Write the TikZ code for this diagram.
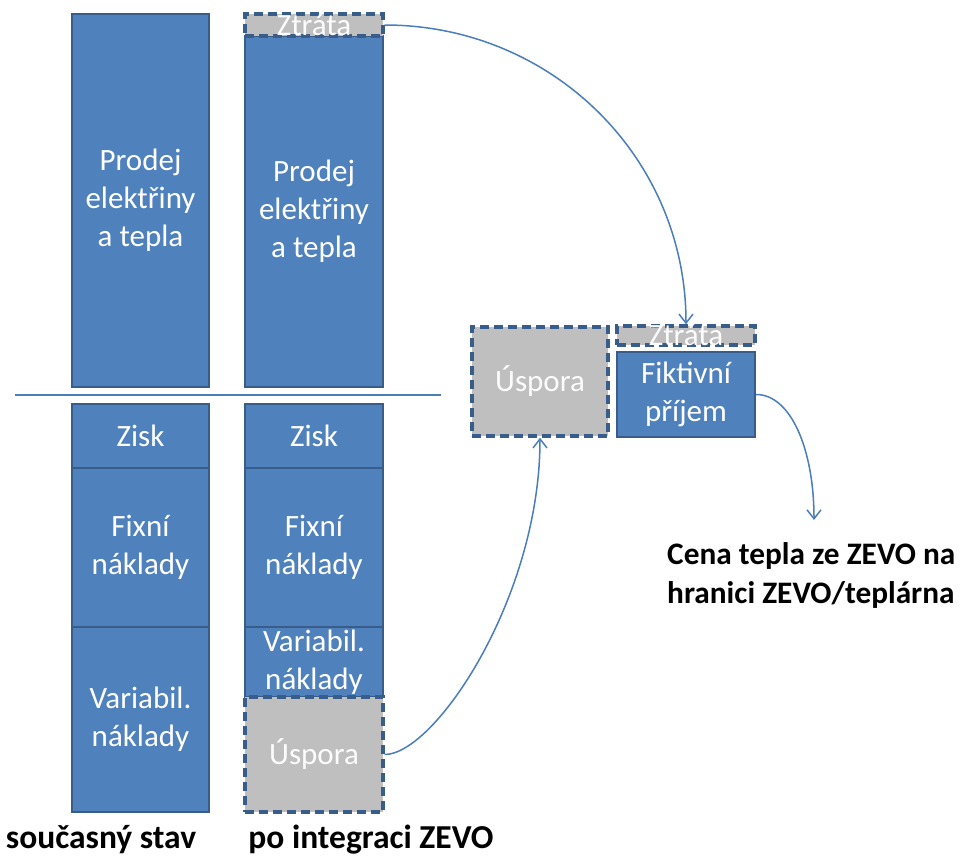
\documentclass[tikz,border=0pt]{standalone}
\usepackage{fontspec}
\setmainfont{Carlito}
\usetikzlibrary{arrows.meta}
\definecolor{bfill}{HTML}{4F81BD}
\definecolor{bline}{HTML}{385D8A}
\definecolor{gfill}{HTML}{BFBFBF}
\definecolor{flowc}{HTML}{4A7EBB}
\tikzset{
  costbox/.style = {draw=bline, line width=2.2pt, fill=bfill, rectangle,
                    text=white, inner sep=0pt, align=center,
                    font=\fontsize{31}{38}\selectfont},
  lossbox/.style = {costbox, fill=gfill, line width=3.4pt,
                    dash pattern=on 9pt off 5pt, text=white!95!gfill},
  flow/.style    = {-{Straight Barb[length=9pt,width=14pt]}, draw=flowc, line width=1.5pt},
  caption/.style = {font=\bfseries\fontsize{33.5}{39}\selectfont, inner sep=0pt},
}

\begin{document}
\begin{tikzpicture}[x=1pt,y=-1pt]
\useasboundingbox (0,0) rectangle (976,859);
% column 1: current state
\node[costbox, minimum width=137pt, minimum height=373pt] (prodL) at (140.5,200.5) {Prodej\\elektřiny\\a tepla};
\node[costbox, minimum width=137pt, minimum height=64pt] (ziskL) at (140.5,436) {Zisk};
\node[costbox, minimum width=137pt, minimum height=159pt] (fixL) at (140.5,547.5) {Fixní\\náklady};
\node[costbox, minimum width=137pt, minimum height=185pt] (varL) at (140.5,719.5) {Variabil.\\náklady};
% column 2: after ZEVO integration
\node[costbox, minimum width=138pt, minimum height=351pt] (prodR) at (314,211.5) {Prodej\\elektřiny\\a tepla};
\node[lossbox, minimum width=138pt, minimum height=22pt, text height=22pt, text depth=0pt] (ztrA) at (314,25) {Ztráta};
\node[costbox, minimum width=138pt, minimum height=64pt] (ziskR) at (314,436) {Zisk};
\node[costbox, minimum width=138pt, minimum height=159pt] (fixR) at (314,547.5) {Fixní\\náklady};
\node[costbox, minimum width=138pt, minimum height=70pt] (varR) at (314,662) {Variabil.\\náklady};
\node[lossbox, minimum width=138pt, minimum height=115pt] (uspA) at (314,754.5) {Úspora};
% revenue / income split on the right
\node[lossbox, minimum width=136pt, minimum height=109pt] (uspB) at (540,381.5) {Úspora};
\node[lossbox, minimum width=138pt, minimum height=19pt, text height=19pt, text depth=0pt] (ztrB) at (686,335.5) {Ztráta};
\node[costbox, minimum width=138pt, minimum height=85pt] (fikt) at (686,394.5) {Fiktivní\\příjem};
% revenue above, costs below
\draw[line width=1.5pt, draw=flowc] (15,395) -- (441,395);
\node[caption] (capL) at (101,840) {současný stav};
\node[caption] (capR) at (371,840) {po integraci ZEVO};
\node[caption, font=\bfseries\fontsize{31.3}{39}\selectfont, anchor=west, align=left] (price) at (667,575) {Cena tepla ze ZEVO na\\hranici ZEVO/teplárna};
\coordinate (priceIn) at (814,520);
\draw[flow] (ztrA.east) .. controls +(167,0) and +(0,-167) .. (ztrB.north);
\draw[flow] (uspA.east) .. controls +(50,0) and +(0,160) .. (uspB.south);
\draw[flow] (fikt.east) .. controls +(35,0) and +(0,-70) .. (priceIn);
\end{tikzpicture}
\end{document}
